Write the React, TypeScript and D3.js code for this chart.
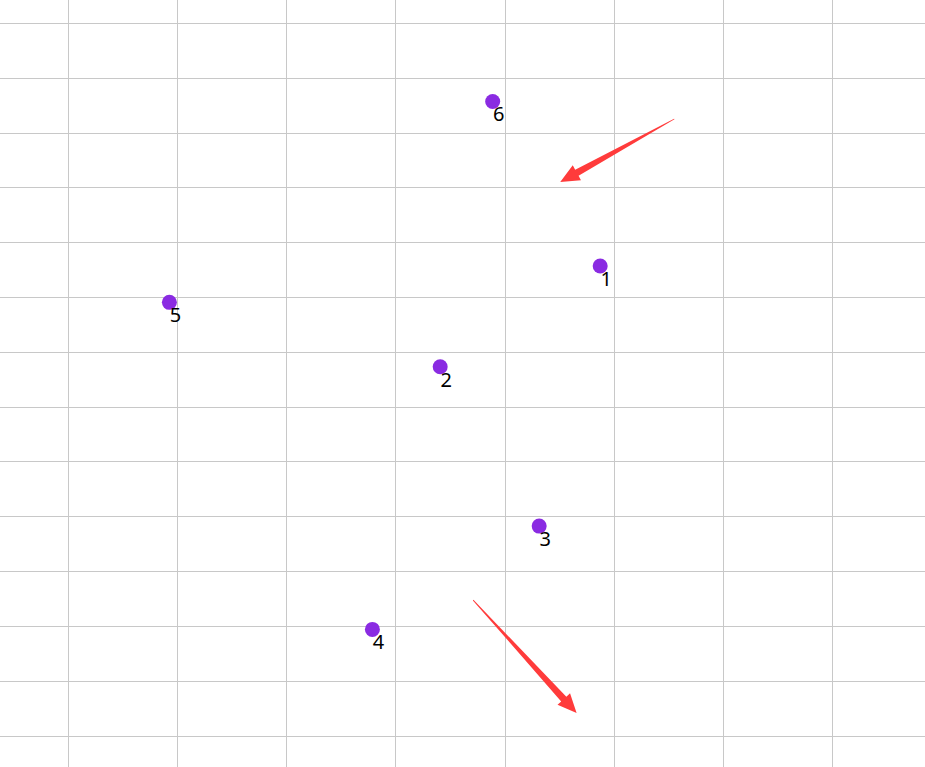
import { useEffect, useRef } from 'react';
import * as d3 from 'd3';

// point positions in grid units (one unit = one grid cell)
const pointLabels = ['1', '2', '3', '4', '5', '6'];
const pointX = [4.876, 3.41, 4.317, 2.789, 0.929, 3.891];
const pointY = [4.434, 6.272, 9.179, 11.064, 5.097, 1.432];

// annotation arrows: tail -> tip, in grid units
const arrowFromX = [5.555, 3.712];
const arrowFromY = [1.752, 10.53];
const arrowToX = [4.51, 4.66];
const arrowToY = [2.9, 12.59];

const gridCols = d3.range(0, 8);
const gridRows = d3.range(0, 14);

const WIDTH = 925;
const HEIGHT = 767;

export default function App() {
  const svgRef = useRef<SVGSVGElement>(null);

  useEffect(() => {
    if (!svgRef.current) return;
    const svg = d3.select(svgRef.current);
    svg.selectAll('*').remove();

    const x = d3.scaleLinear().domain([0, 7]).range([68, 832]);
    const y = d3.scaleLinear().domain([0, 13]).range([23, 735.5]);

    const grid = svg.append('g').attr('shape-rendering', 'crispEdges');
    grid
      .selectAll('.vline')
      .data(gridCols)
      .join('line')
      .attr('class', 'vline')
      .attr('x1', (d) => Math.round(x(d)) + 0.5)
      .attr('x2', (d) => Math.round(x(d)) + 0.5)
      .attr('y1', 0)
      .attr('y2', HEIGHT)
      .attr('stroke', '#c8c8c8');
    grid
      .selectAll('.hline')
      .data(gridRows)
      .join('line')
      .attr('class', 'hline')
      .attr('y1', (d) => Math.round(y(d)) + 0.5)
      .attr('y2', (d) => Math.round(y(d)) + 0.5)
      .attr('x1', 0)
      .attr('x2', WIDTH)
      .attr('stroke', '#c8c8c8');

    // tapered arrows
    const arrows = arrowFromX.map((_, i) => ({
      x1: x(arrowFromX[i]),
      y1: y(arrowFromY[i]),
      x2: x(arrowToX[i]),
      y2: y(arrowToY[i]),
    }));
    const arrowPath = (a: { x1: number; y1: number; x2: number; y2: number }) => {
      const dx = a.x2 - a.x1;
      const dy = a.y2 - a.y1;
      const len = Math.hypot(dx, dy);
      const ux = dx / len;
      const uy = dy / len;
      const nx = -uy;
      const ny = ux;
      const headLen = 19;
      const headHalf = 8.5;
      const shaftHalf = 3.5;
      const bx = a.x2 - ux * headLen;
      const by = a.y2 - uy * headLen;
      const pts: [number, number][] = [
        [a.x1 + nx * 0.4, a.y1 + ny * 0.4],
        [bx + nx * shaftHalf, by + ny * shaftHalf],
        [bx + nx * headHalf, by + ny * headHalf],
        [a.x2, a.y2],
        [bx - nx * headHalf, by - ny * headHalf],
        [bx - nx * shaftHalf, by - ny * shaftHalf],
        [a.x1 - nx * 0.4, a.y1 - ny * 0.4],
      ];
      return 'M' + pts.map((p) => p.join(',')).join('L') + 'Z';
    };
    svg
      .append('g')
      .selectAll('path')
      .data(arrows)
      .join('path')
      .attr('d', arrowPath)
      .attr('fill', '#ff3b3b');

    const pts = pointLabels.map((label, i) => ({ label, x: pointX[i], y: pointY[i] }));
    const g = svg.append('g');
    g.selectAll('circle')
      .data(pts)
      .join('circle')
      .attr('cx', (d) => x(d.x))
      .attr('cy', (d) => y(d.y))
      .attr('r', 7.5)
      .attr('fill', '#8a2be2');
    g.selectAll('text')
      .data(pts)
      .join('text')
      .attr('x', (d) => x(d.x) + 6)
      .attr('y', (d) => y(d.y) + 20)
      .attr('text-anchor', 'middle')
      .attr('fill', '#000')
      .style('font-family', '"Noto Sans", "DejaVu Sans", sans-serif')
      .style('font-size', '20px')
      .text((d) => d.label);
  }, []);

  return (
    <svg
      ref={svgRef}
      width={WIDTH}
      height={HEIGHT}
      style={{ position: 'absolute', left: 0, top: 0, display: 'block', background: '#fff' }}
    />
  );
}
